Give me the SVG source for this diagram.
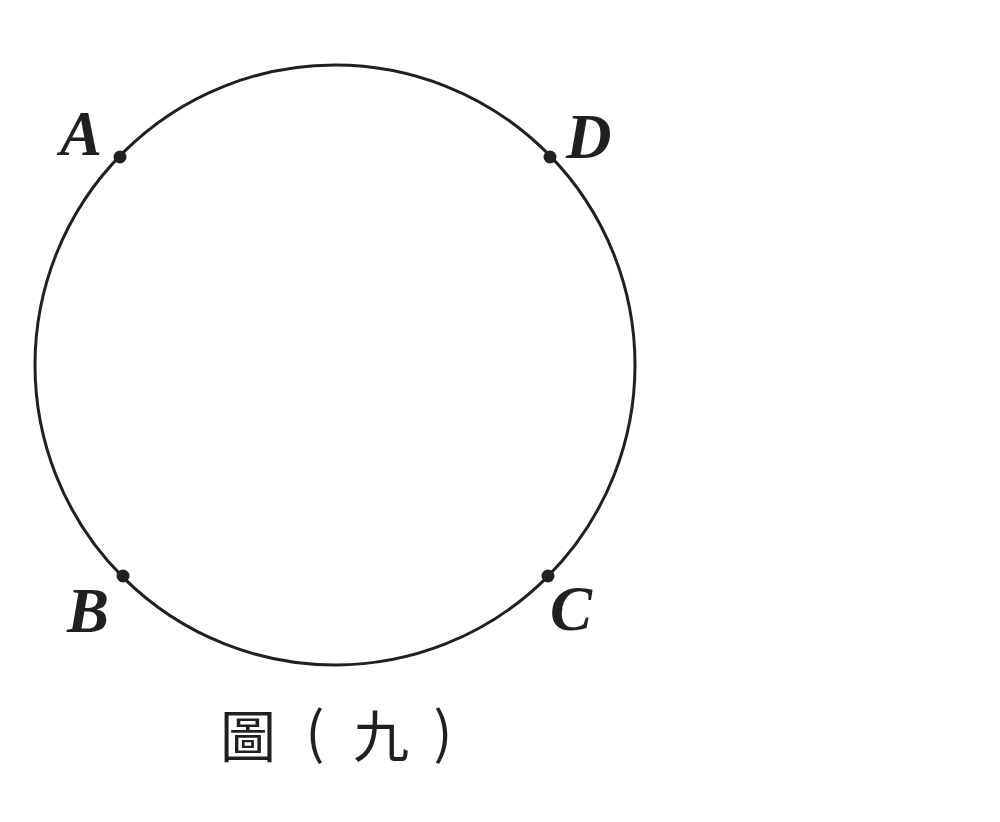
<svg xmlns="http://www.w3.org/2000/svg" width="1000" height="822" viewBox="0 0 1000 822">
<style>
.lbl{font-family:"Liberation Serif","Times New Roman",serif;font-weight:bold;font-style:italic;font-size:63px;fill:#231f20}
.cap{font-family:"Noto Sans CJK TC","Noto Sans CJK SC",sans-serif;font-size:56px;fill:#231f20;text-anchor:middle}
.pt{fill:#231f20}
</style>
<rect width="1000" height="822" fill="#fff"/>
<g id="circle"><circle cx="335" cy="365" r="300" fill="none" stroke="#231f20" stroke-width="3"/></g>
<g id="A"><circle class="pt" cx="120" cy="157" r="6.5"/><text class="lbl" x="60" y="155">A</text></g>
<g id="D"><circle class="pt" cx="550" cy="157" r="6.5"/><text class="lbl" x="566" y="158">D</text></g>
<g id="B"><circle class="pt" cx="123" cy="576" r="6.5"/><text class="lbl" x="67" y="632">B</text></g>
<g id="C"><circle class="pt" cx="548" cy="576" r="6.5"/><text class="lbl" x="550" y="630">C</text></g>
<g id="caption">
<text class="cap" x="248" y="757">圖</text>
<text class="cap" x="315" y="753">(</text>
<text class="cap" x="381" y="757">九</text>
<text class="cap" x="443" y="753">)</text>
</g>
</svg>
